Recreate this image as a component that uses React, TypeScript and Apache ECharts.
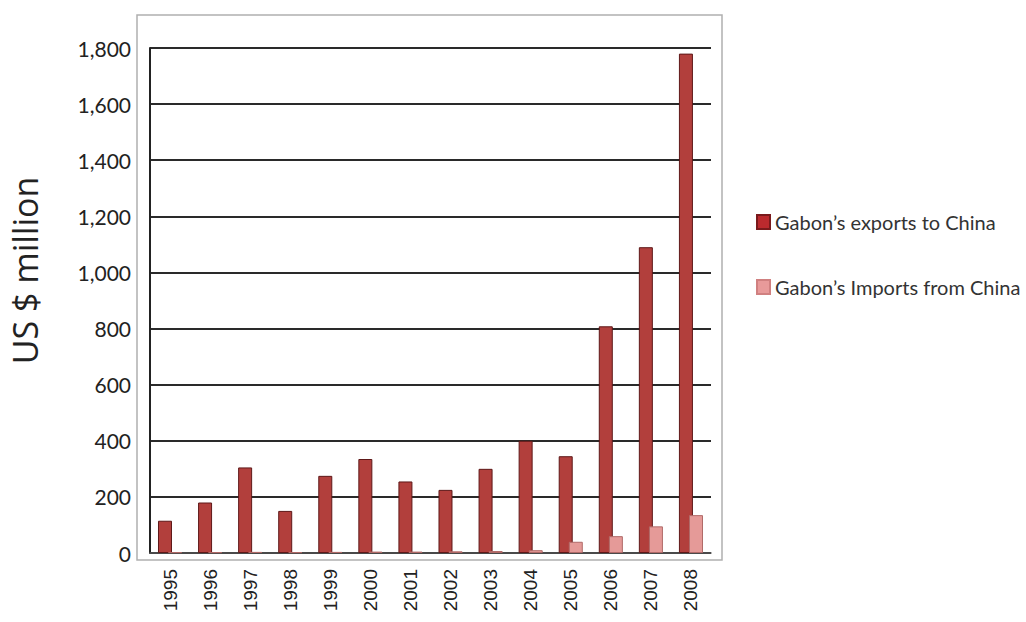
import React, { useEffect, useRef } from "react";
import * as echarts from "echarts";

const years = ["1995","1996","1997","1998","1999","2000","2001","2002","2003","2004","2005","2006","2007","2008"];
const exportsToChina = [115, 180, 305, 150, 275, 335, 255, 225, 300, 400, 345, 808, 1090, 1780];
const importsFromChina = [3, 3, 4, 3, 4, 5, 5, 6, 7, 10, 40, 60, 95, 135];
const yTicks = { min: 0, max: 1800, interval: 200 };

export default function App() {
  const ref = useRef<HTMLDivElement>(null);
  useEffect(() => {
    document.body.style.margin = "0";
    if (!ref.current) return;
    const chart = echarts.init(ref.current, null, { renderer: "svg" });
    chart.setOption({
      animation: false,
      backgroundColor: "#ffffff",
      textStyle: { fontFamily: "Lato" },
      grid: { left: 150, right: 315, top: 48, bottom: 69, containLabel: false },
      graphic: [
        {
          type: "rect",
          shape: { x: 137, y: 15, width: 585, height: 545 },
          style: { fill: "none", stroke: "#b0b0b0", lineWidth: 1.5 },
          silent: true,
        },
      ],
      legend: {
        orient: "vertical",
        left: 751,
        top: 207,
        itemWidth: 13,
        itemHeight: 14,
        itemGap: 45,
        icon: "rect",
        textStyle: { fontSize: 20, color: "#333", fontFamily: "Lato" },
        data: [
          { name: "Gabon\u2019s exports to China", itemStyle: { color: "#bb2a2e", borderColor: "#7a1a1c" } },
          { name: "Gabon\u2019s Imports from China", itemStyle: { color: "#e89a9a", borderColor: "#d08080" } },
        ],
      },
      xAxis: {
        type: "category",
        data: years,
        axisLine: { show: true, lineStyle: { color: "#555", width: 1.5 } },
        axisTick: { show: false },
        axisLabel: {
          rotate: 90,
          fontSize: 19,
          color: "#222",
          margin: 16,
          fontFamily: "Liberation Sans",
          padding: [0, 0, 8, 0],
        },
      },
      yAxis: {
        type: "value",
        min: yTicks.min,
        max: yTicks.max,
        interval: yTicks.interval,
        name: "US $ million",
        nameLocation: "middle",
        nameGap: 108,
        nameRotate: 90,
        nameTextStyle: {
          fontSize: 34,
          color: "#222",
          fontFamily: "Open Sans",
          fontWeight: "normal",
          padding: [0, 0, 0, 60],
        },
        axisLine: { show: true, lineStyle: { color: "#222", width: 2 } },
        axisTick: { show: false },
        axisLabel: {
          fontSize: 21,
          color: "#222",
          margin: 19,
          fontFamily: "Lato",
          formatter: (v: number) => v.toLocaleString("en-US"),
        },
        splitLine: { show: true, lineStyle: { color: "#2a2a2a", width: 2 } },
      },
      series: [
        {
          name: "Gabon\u2019s exports to China",
          type: "bar",
          data: exportsToChina,
          barWidth: 14,
          barGap: "-28%",
          itemStyle: { color: "#b23f3c", borderColor: "#5e1818", borderWidth: 1 },
        },
        {
          name: "Gabon\u2019s Imports from China",
          type: "bar",
          data: importsFromChina,
          barWidth: 14,
          itemStyle: { color: "#e59a98", borderColor: "#b06a68", borderWidth: 1 },
        },
      ],
    });
    return () => chart.dispose();
  }, []);
  return <div ref={ref} style={{ width: 1026, height: 622 }} />;
}
